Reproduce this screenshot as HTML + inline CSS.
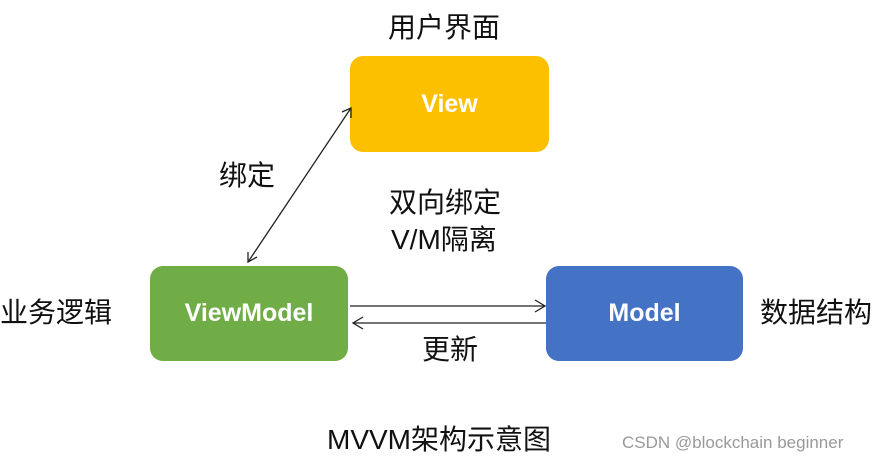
<!DOCTYPE html>
<html><head><meta charset="utf-8"><style>
body{margin:0;background:#fff;width:890px;height:464px;overflow:hidden;position:relative;font-family:"Liberation Sans","Noto Sans CJK SC",sans-serif}
.b{position:absolute;border-radius:13px;color:#fff;font-weight:bold;font-size:25px;display:flex;align-items:center;justify-content:center}
.t{position:absolute;font-size:28px;color:#111;white-space:nowrap;line-height:1}
</style></head><body>
<div class="b" style="left:350px;top:56px;width:199px;height:96px;background:#fdc000">View</div>
<div class="b" style="left:150px;top:266px;width:198px;height:95px;background:#70ad47">ViewModel</div>
<div class="b" style="left:546px;top:266px;width:197px;height:95px;background:#4472c4">Model</div>
<svg style="position:absolute;left:0;top:0" width="890" height="464">
<g stroke="#222" stroke-width="1.3" fill="none">
<line x1="248" y1="262" x2="351" y2="108"/>
<polyline points="342,112 351,108 351,118"/>
<polyline points="248,252 248,262 257,257"/>
<line x1="350" y1="306" x2="545" y2="306"/>
<polyline points="535,300 545,306 535,312"/>
<line x1="353" y1="323" x2="546" y2="323"/>
<polyline points="363,317 353,323 363,329"/>
</g></svg>
<div class="t" style="left:388px;top:14px">用户界面</div>
<div class="t" style="left:219px;top:162px">绑定</div>
<div class="t" style="left:389px;top:189px">双向绑定</div>
<div class="t" style="left:391px;top:226px">V/M隔离</div>
<div class="t" style="left:422px;top:336px">更新</div>
<div class="t" style="left:0px;top:299px">业务逻辑</div>
<div class="t" style="left:760px;top:299px">数据结构</div>
<div class="t" style="left:327px;top:426px">MVVM架构示意图</div>
<div class="t" style="left:622px;top:434px;font-size:17px;color:#999">CSDN @blockchain beginner</div>
</body></html>
